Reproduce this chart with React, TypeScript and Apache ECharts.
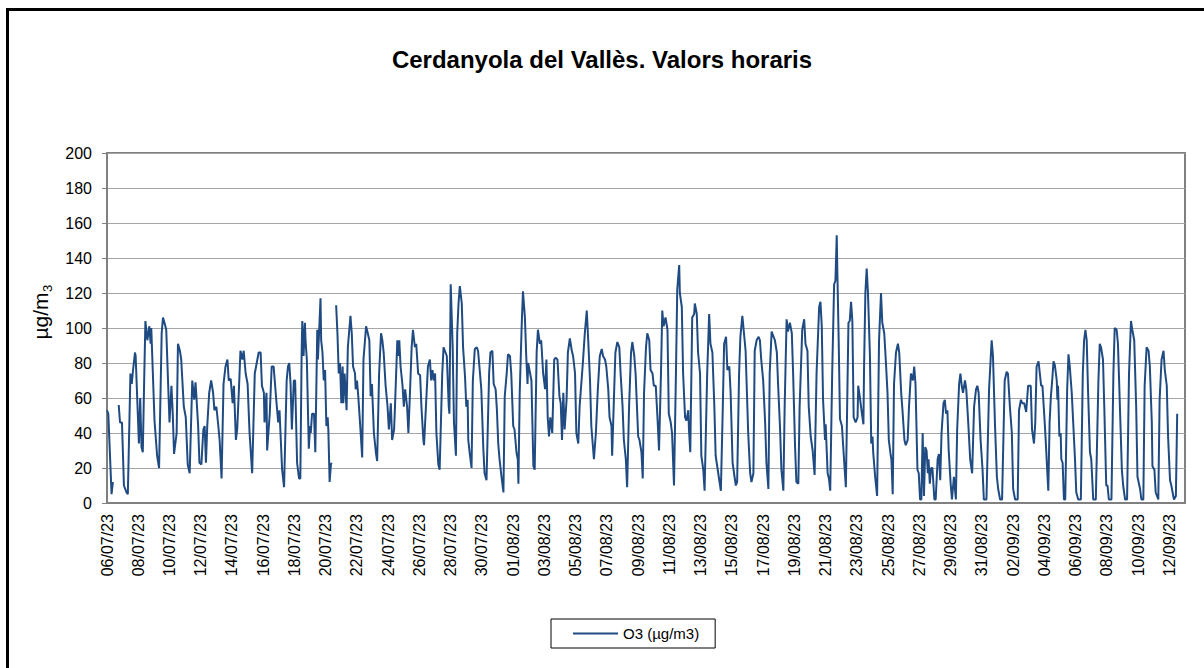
import React, { useEffect, useRef } from 'react';
import * as echarts from 'echarts';

const TITLE = 'Cerdanyola del Vallès. Valors horaris';
const SERIES_NAME = 'O3 (µg/m3)';
const FONT = 'Arial, "Liberation Sans", Helvetica, sans-serif';

// x tick labels, one every 48 hours starting 06/07/23 00:00
const dateLabels = [
  '06/07/23', '08/07/23', '10/07/23', '12/07/23', '14/07/23', '16/07/23', '18/07/23',
  '20/07/23', '22/07/23', '24/07/23', '26/07/23', '28/07/23', '30/07/23', '01/08/23',
  '03/08/23', '05/08/23', '07/08/23', '09/08/23', '11/08/23', '13/08/23', '15/08/23',
  '17/08/23', '19/08/23', '21/08/23', '23/08/23', '25/08/23', '27/08/23', '29/08/23',
  '31/08/23', '02/09/23', '04/09/23', '06/09/23', '08/09/23', '10/09/23', '12/09/23',
];

// [hours since 06/07/23 00:00, O3 µg/m3]; '-' = missing hours
const segJul06: any[] = [
  [0,53],[2,51],[7,5],[9,12],[13,'-'],[18,56],[20,46],[23,46],[26,10],[30,6],[32,5],[36,74],[38,68],[40,76],[43,86],[44,84],[49,34],[51,60],[53,32],[55,29],[57,68],[59,104],[62,93],[65,101],[67,91],[68,100],[73,47],[77,27],[80,20],[84,97],[86,106],[89,102],[91,99],[96,46],[99,67],[101,51],[103,28],[107,40],[109,91],[112,87],[114,82],[118,55],[121,49],[124,22],[127,17],[131,70],[134,59],[136,69],[137,63],[140,44],[142,23],[145,22],[148,42],[150,44],[152,23],[154,44],[157,63],[160,70],[163,63],[165,53],[168,55],[171,44],[173,36],[176,14],[179,68],[182,78],[185,82],[187,70],[190,71],[193,57],[195,67],[198,36],[200,42],[203,68],[205,87],[208,82],[210,87],[213,74],[216,68],[219,40],[223,17],[227,74],[229,78],[233,86],[236,86],[238,67],[241,63],[242,46],[245,63],[246,30],[250,51],[253,78],[256,78],[260,59],[263,46],[265,53],[269,19],[272,9],
];
const segJul17: any[] = [
  [276,70],[278,78],[280,80],[282,68],[284,42],[287,70],[289,70],[292,23],[295,14],[297,14],[299,86],[300,104],[302,84],[304,103],[305,93],[307,82],[310,31],[312,44],[313,40],[315,51],[318,51],[320,29],[323,99],[324,82],[326,99],[328,117],[329,93],[331,86],[333,70],[335,76],[337,44],[339,49],[340,42],[342,12],[344,22],[345,23],[348,'-'],[352,113],[354,97],[356,74],[358,80],[360,57],[362,78],[363,57],[365,74],[368,53],[370,89],[374,107],[376,97],[378,78],[381,74],[382,65],[384,70],[386,61],[389,44],[392,26],[394,82],[398,101],[400,98],[403,93],[405,61],[407,68],[410,40],[413,29],[415,24],[418,74],[421,97],[423,93],[425,86],[428,67],[431,55],[433,42],[436,57],[438,36],[441,42],[442,51],[446,93],[447,84],[449,93],[451,78],[454,67],[456,55],[458,65],[461,55],[463,40],[465,59],[468,89],[470,99],[473,89],[475,91],[478,74],[481,73],[483,55],[486,36],[487,33],[491,63],[493,78],[496,82],[498,70],[500,76],[502,70],[504,74],[506,40],[509,22],[511,19],[515,74],[517,89],[520,86],[522,84],[525,55],[526,51],[528,125],[531,89],[533,46],[536,27],[538,97],[540,114],[542,124],[545,114],[547,89],[550,72],[552,55],[554,59],[555,36],[557,29],[560,20],
];
const segJul29: any[] = [
  [562,70],[565,88],[568,89],[570,87],[573,74],[575,65],[578,32],[580,17],[583,13],[587,74],[589,86],[592,87],[594,68],[597,65],[599,53],[601,34],[603,25],[606,15],[609,6],[611,61],[614,74],[616,85],[619,84],[621,74],[624,44],[626,42],[629,29],[631,25],[632,11],[634,63],[637,101],[639,121],[642,106],[644,84],[646,68],[647,80],[650,74],[652,70],[655,21],[657,19],[660,86],[662,99],[665,91],[667,93],[670,74],[673,65],[675,82],[677,49],[679,38],[681,49],[684,40],[687,82],[689,83],[692,82],[695,61],[697,57],[699,36],[701,63],[703,42],[706,59],[708,86],[711,94],[714,87],[716,84],[719,74],[721,40],[724,34],[726,55],[731,80],[734,97],[737,110],[739,95],[742,70],[744,44],[748,25],[751,40],[754,65],[757,84],[760,88],[762,84],[765,82],[767,78],[770,65],[772,49],[775,44],[776,27],[779,63],[781,86],[784,92],[787,89],[789,74],[792,55],[794,36],[797,25],[799,9],[802,55],[805,86],[807,92],[810,84],[812,74],[816,38],[818,36],[821,29],[823,14],[825,63],[828,89],[830,97],[833,93],[835,76],[838,74],[840,67],[843,67],[846,46],[848,30],
];
const segAug10: any[] = [
  [851,74],[853,110],[855,101],[858,106],[861,99],[863,51],[866,46],[868,40],[871,10],[874,74],[876,122],[879,136],[880,120],[883,112],[885,74],[888,49],[890,47],[893,53],[894,42],[896,29],[899,106],[902,108],[903,114],[906,108],[908,86],[911,74],[913,27],[916,19],[918,7],[922,74],[925,108],[927,91],[930,86],[933,55],[935,27],[939,17],[943,7],[946,55],[948,91],[951,95],[953,76],[956,78],[958,63],[961,23],[964,15],[966,10],[968,12],[971,74],[973,95],[976,107],[978,99],[981,87],[985,40],[988,17],[990,12],[993,17],[995,87],[998,93],[1001,95],[1003,93],[1005,82],[1008,70],[1011,46],[1013,23],[1016,8],[1018,74],[1021,98],[1023,96],[1026,93],[1029,86],[1031,67],[1034,42],[1036,19],[1039,7],[1041,55],[1044,105],[1046,98],[1049,103],[1052,97],[1054,74],[1057,32],[1059,12],[1062,11],[1064,55],[1068,99],[1071,105],[1073,91],[1076,87],[1078,55],[1081,38],[1084,30],[1087,16],[1090,74],[1092,93],[1094,112],[1096,115],[1098,101],[1100,59],[1103,36],[1104,45],[1107,17],[1109,14],[1111,7],[1114,74],[1117,125],[1119,127],[1121,153],[1122,131],[1124,93],[1126,48],[1129,44],[1131,32],[1135,9],
];
const segAug23: any[] = [
  [1137,55],[1139,103],[1141,104],[1143,115],[1145,104],[1147,49],[1150,46],[1153,49],[1154,67],[1157,59],[1159,53],[1162,45],[1163,78],[1165,120],[1167,134],[1169,120],[1172,84],[1174,34],[1176,38],[1177,29],[1180,15],[1183,4],[1186,93],[1189,120],[1191,103],[1194,97],[1196,84],[1199,63],[1201,36],[1204,27],[1205,25],[1207,5],[1209,68],[1212,86],[1215,91],[1217,86],[1220,63],[1222,53],[1225,36],[1227,33],[1230,36],[1232,55],[1235,74],[1238,70],[1240,78],[1242,68],[1245,19],[1247,17],[1249,2],[1251,2],[1253,40],[1255,4],[1257,32],[1259,30],[1261,17],[1262,25],[1264,11],[1266,20],[1268,20],[1271,2],[1273,2],[1276,25],[1278,28],[1280,13],[1282,40],[1285,57],[1287,59],[1289,51],[1291,53],[1293,30],[1296,11],[1298,2],[1301,15],[1304,2],[1306,42],[1309,68],[1311,74],[1313,67],[1315,63],[1318,70],[1320,65],[1323,46],[1326,25],[1329,17],[1332,55],[1335,65],[1337,67],[1339,63],[1342,36],[1345,19],[1347,2],[1351,2],[1355,65],[1359,93],[1361,84],[1364,46],[1367,15],[1369,8],[1372,2],[1375,2],[1379,70],[1382,75],[1384,74],[1387,55],[1390,40],[1392,8],[1395,2],[1399,2],[1401,53],[1404,59],[1406,57],[1409,57],
];
const segSep04: any[] = [
  [1412,52],[1415,67],[1419,67],[1421,42],[1424,34],[1426,46],[1428,78],[1431,81],[1433,74],[1435,67],[1437,67],[1440,49],[1442,36],[1444,21],[1446,7],[1448,46],[1450,61],[1452,70],[1454,81],[1456,79],[1459,70],[1460,59],[1461,67],[1463,38],[1465,40],[1466,25],[1468,23],[1470,2],[1472,2],[1475,65],[1477,85],[1479,78],[1482,63],[1484,48],[1487,25],[1489,6],[1492,2],[1496,2],[1499,74],[1501,93],[1503,99],[1505,93],[1507,65],[1510,29],[1512,25],[1515,2],[1519,2],[1523,70],[1525,91],[1527,89],[1530,82],[1532,55],[1535,10],[1537,10],[1539,2],[1543,2],[1546,74],[1548,100],[1551,99],[1553,91],[1556,55],[1559,19],[1561,10],[1564,2],[1567,2],[1570,74],[1573,104],[1575,99],[1578,93],[1581,55],[1583,15],[1587,8],[1589,2],[1592,2],[1594,67],[1597,89],[1600,87],[1602,78],[1605,46],[1606,21],[1609,19],[1611,6],[1615,2],[1617,59],[1620,82],[1623,87],[1625,76],[1628,67],[1630,38],[1633,13],[1635,10],[1637,6],[1639,2],[1642,4],[1644,51],
];

const o3Data = [...segJul06, ...segJul17, ...segJul29, ...segAug10, ...segAug23, ...segSep04];

const LINE_COLOR = '#1F4B82';

export default function App() {
  const ref = useRef<HTMLDivElement>(null);
  useEffect(() => {
    document.body.style.margin = '0';
    const chart = echarts.init(ref.current as HTMLDivElement, null, { renderer: 'svg' });
    chart.setOption({
      animation: false,
      backgroundColor: '#ffffff',
      textStyle: { fontFamily: FONT },
      title: {
        text: TITLE,
        left: 'center',
        top: 42,
        textStyle: { fontSize: 24, fontWeight: 'bold', color: '#000', fontFamily: FONT },
      },
      grid: {
        left: 107,
        top: 153,
        width: 1078,
        height: 350,
        show: true,
        borderColor: '#808080',
        borderWidth: 2,
        backgroundColor: 'transparent',
      },
      xAxis: {
        type: 'value',
        min: 0,
        max: 1656,
        interval: 48,
        axisLine: { show: true, onZero: false, lineStyle: { color: '#808080', width: 2 } },
        axisTick: { show: false },
        splitLine: { show: false },
        axisLabel: {
          rotate: 90,
          fontSize: 16,
          color: '#000',
          margin: 11,
          fontFamily: FONT,
          showMaxLabel: false,
          formatter: (v: number) => {
            const i = v / 48;
            return Number.isInteger(i) && i < dateLabels.length ? dateLabels[i] : '';
          },
        },
      },
      yAxis: {
        type: 'value',
        min: 0,
        max: 200,
        interval: 20,
        axisLine: { show: true, lineStyle: { color: '#808080', width: 2 } },
        axisTick: { show: true, length: 5, lineStyle: { color: '#808080', width: 1 } },
        splitLine: { show: true, lineStyle: { color: '#a6a6a6', width: 1 } },
        axisLabel: { fontSize: 16, color: '#000', margin: 15, fontFamily: FONT },
      },
      legend: {
        data: [{ name: SERIES_NAME, icon: 'rect' }],
        left: 551,
        top: 619,
        itemWidth: 45,
        itemHeight: 2,
        padding: [7, 16, 7, 22],
        borderColor: '#000',
        borderWidth: 1,
        textStyle: { fontSize: 15, color: '#000', fontFamily: FONT },
      },
      series: [
        {
          name: SERIES_NAME,
          type: 'line',
          data: o3Data,
          symbol: 'none',
          connectNulls: false,
          lineStyle: { color: LINE_COLOR, width: 2 },
          itemStyle: { color: LINE_COLOR },
        },
      ],
      graphic: [
        {
          type: 'rect',
          silent: true,
          z: 100,
          shape: { x: 7.5, y: 9.5, width: 1400, height: 1000 },
          style: { fill: 'none', stroke: '#000', lineWidth: 3 },
        },
        {
          type: 'group',
          x: 40,
          y: 316,
          rotation: Math.PI / 2,
          children: [
            {
              type: 'text',
              x: 0,
              y: 0,
              style: { text: 'µg/m', fontSize: 21, fontFamily: FONT, fill: '#000', align: 'center', verticalAlign: 'middle' },
            },
            {
              type: 'text',
              x: 24,
              y: 7,
              style: { text: '3', fontSize: 13, fontFamily: FONT, fill: '#000', align: 'left', verticalAlign: 'middle' },
            },
          ],
        },
      ],
    });
    return () => chart.dispose();
  }, []);
  return <div ref={ref} style={{ width: 1204, height: 668 }} />;
}
